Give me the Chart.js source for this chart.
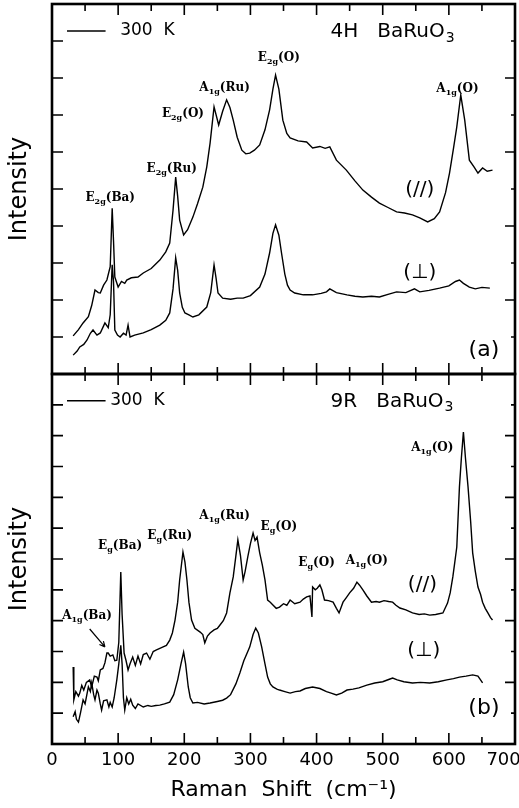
<!DOCTYPE html>
<html lang="en">
<head>
<meta charset="UTF-8">
<title>Raman spectra of 4H and 9R BaRuO3</title>
<script src="https://cdn.jsdelivr.net/npm/chart.js"></script>
<style>
  body { margin: 0; background: #fff; }
  canvas { display: block; }
</style>
</head>
<body>
<canvas id="raman" width="519" height="808"></canvas>
<script>
// (a) 4H BaRuO3, parallel polarisation
const shiftA_par = [32, 40, 47, 55, 60, 65, 70, 73, 78, 83, 88, 91, 93, 95, 100, 105, 110, 113, 120, 130, 138, 150, 163, 172, 178, 183, 187, 190, 193, 199, 205, 213, 220, 228, 234, 239, 245, 252, 258, 264, 269, 274, 280, 287, 293, 299, 306, 314, 322, 329, 334, 338, 343, 349, 355, 360, 372, 385, 394, 405, 413, 420, 430, 445, 458, 470, 483, 495, 508, 521, 533, 545, 556, 568, 578, 586, 595, 601, 607, 612, 618, 624, 631, 638, 644, 651, 658, 666];
const intA_par = [1.03, 1.2, 1.38, 1.55, 1.85, 2.27, 2.2, 2.19, 2.4, 2.54, 2.9, 4.48, 3.6, 2.62, 2.35, 2.5, 2.45, 2.54, 2.6, 2.62, 2.73, 2.85, 3.08, 3.3, 3.54, 4.43, 5.32, 4.8, 4.16, 3.76, 3.9, 4.24, 4.6, 5.05, 5.6, 6.24, 7.22, 6.73, 7.1, 7.41, 7.2, 6.86, 6.4, 6.05, 5.95, 5.97, 6.05, 6.19, 6.6, 7.14, 7.7, 8.08, 7.7, 6.86, 6.5, 6.38, 6.3, 6.27, 6.11, 6.15, 6.1, 6.14, 5.78, 5.51, 5.22, 4.97, 4.78, 4.62, 4.5, 4.38, 4.35, 4.3, 4.22, 4.11, 4.2, 4.38, 4.9, 5.43, 6.1, 6.68, 7.54, 6.86, 5.78, 5.6, 5.43, 5.57, 5.48, 5.51];

// (a) 4H BaRuO3, crossed polarisation
const shiftA_perp = [32, 38, 42, 48, 53, 58, 62, 68, 73, 78, 80, 85, 88, 91, 93, 95, 99, 103, 108, 112, 115, 118, 125, 138, 150, 163, 172, 178, 183, 187, 190, 193, 197, 201, 207, 213, 222, 234, 240, 245, 248, 251, 258, 270, 280, 289, 300, 314, 322, 329, 334, 338, 343, 347, 352, 356, 360, 367, 380, 394, 407, 415, 420, 430, 446, 458, 470, 483, 495, 508, 521, 535, 548, 556, 570, 586, 600, 610, 616, 622, 631, 640, 650, 662];
const intA_perp = [0.51, 0.62, 0.73, 0.8, 0.92, 1.1, 1.19, 1.05, 1.11, 1.3, 1.38, 1.25, 1.6, 2.95, 2.5, 1.19, 1.05, 1.0, 1.1, 1.05, 1.32, 1.0, 1.05, 1.11, 1.2, 1.32, 1.45, 1.65, 2.3, 3.14, 2.8, 2.19, 1.8, 1.65, 1.6, 1.54, 1.6, 1.81, 2.2, 2.95, 2.6, 2.19, 2.05, 2.02, 2.05, 2.05, 2.12, 2.35, 2.7, 3.27, 3.8, 4.03, 3.75, 3.27, 2.7, 2.4, 2.27, 2.19, 2.14, 2.14, 2.18, 2.22, 2.3, 2.2, 2.14, 2.1, 2.08, 2.1, 2.08, 2.15, 2.22, 2.2, 2.3, 2.22, 2.26, 2.32, 2.38, 2.5, 2.54, 2.45, 2.35, 2.3, 2.34, 2.32];

// (b) 9R BaRuO3, parallel polarisation
const shiftB_par = [32, 33, 36, 40, 42, 45, 48, 52, 57, 60, 64, 68, 70, 73, 77, 80, 83, 85, 88, 92, 95, 98, 101, 104, 106, 109, 112, 115, 118, 122, 126, 130, 134, 138, 143, 148, 153, 158, 163, 168, 173, 178, 182, 186, 190, 193, 198, 201, 204, 207, 211, 216, 224, 228, 231, 235, 239, 245, 250, 254, 259, 264, 269, 274, 278, 281, 285, 289, 292, 296, 300, 304, 307, 310, 314, 318, 322, 326, 330, 334, 339, 344, 350, 355, 360, 367, 375, 380, 385, 390, 393, 394, 398, 401, 405, 408, 412, 418, 425, 430, 434, 440, 445, 450, 456, 461, 465, 470, 476, 483, 490, 495, 502, 509, 515, 520, 526, 535, 545, 555, 563, 571, 580, 591, 598, 602, 606, 609, 612, 616, 619, 622, 625, 629, 633, 636, 640, 644, 648, 651, 655, 659, 663, 666];
const intB_par = [2.5, 1.43, 1.7, 1.55, 1.65, 1.9, 1.75, 2.0, 2.08, 1.85, 2.2, 2.17, 2.05, 2.4, 2.45, 2.63, 2.95, 2.95, 2.85, 2.89, 2.7, 2.72, 3.3, 5.58, 4.2, 2.95, 2.7, 2.4, 2.6, 2.82, 2.55, 2.85, 2.6, 2.9, 2.95, 2.75, 3.0, 3.05, 3.1, 3.15, 3.2, 3.37, 3.6, 4.02, 4.6, 5.32, 6.23, 5.9, 5.32, 4.6, 4.02, 3.75, 3.63, 3.55, 3.28, 3.5, 3.6, 3.7, 3.75, 3.86, 4.0, 4.25, 4.9, 5.42, 6.1, 6.62, 6.1, 5.32, 5.6, 6.07, 6.5, 6.84, 6.6, 6.71, 6.2, 5.8, 5.32, 4.67, 4.6, 4.51, 4.4, 4.44, 4.55, 4.5, 4.67, 4.55, 4.6, 4.7, 4.77, 4.8, 4.12, 5.09, 5.0, 5.05, 5.16, 5.0, 4.67, 4.65, 4.6, 4.4, 4.25, 4.6, 4.75, 4.9, 5.05, 5.25, 5.15, 5.0, 4.8, 4.6, 4.62, 4.6, 4.65, 4.62, 4.6, 4.5, 4.41, 4.35, 4.25, 4.2, 4.22, 4.18, 4.2, 4.25, 4.57, 4.9, 5.42, 5.9, 6.39, 8.34, 9.3, 10.12, 9.3, 8.34, 7.2, 6.2, 5.6, 5.09, 4.85, 4.6, 4.4, 4.25, 4.1, 4.02];

// (b) 9R BaRuO3, crossed polarisation
const shiftB_perp = [32, 35, 37, 40, 43, 47, 50, 55, 58, 60, 63, 65, 68, 70, 73, 75, 78, 83, 86, 88, 91, 94, 98, 101, 104, 106, 108, 110, 113, 116, 119, 122, 126, 130, 138, 145, 150, 157, 163, 170, 178, 184, 190, 195, 199, 202, 206, 209, 213, 220, 230, 239, 250, 258, 264, 270, 278, 284, 290, 296, 299, 304, 308, 312, 317, 322, 326, 330, 334, 340, 344, 352, 360, 368, 375, 383, 394, 405, 415, 422, 430, 438, 446, 455, 464, 476, 488, 500, 510, 515, 522, 532, 545, 557, 571, 584, 597, 607, 616, 626, 636, 644, 651];
const intB_perp = [0.88, 1.05, 0.8, 0.71, 1.0, 1.43, 1.3, 1.85, 1.7, 1.98, 1.6, 1.43, 1.75, 1.65, 1.3, 1.1, 1.4, 1.43, 1.2, 1.35, 1.2, 1.5, 2.08, 2.6, 3.2, 2.6, 1.5, 1.1, 1.5, 1.3, 1.45, 1.26, 1.15, 1.3, 1.2, 1.25, 1.22, 1.25, 1.26, 1.3, 1.36, 1.6, 2.08, 2.6, 2.98, 2.6, 1.85, 1.5, 1.33, 1.35, 1.3, 1.33, 1.38, 1.42, 1.49, 1.6, 1.95, 2.3, 2.7, 3.0, 3.15, 3.55, 3.76, 3.6, 3.15, 2.6, 2.17, 1.95, 1.85, 1.78, 1.75, 1.7, 1.65, 1.7, 1.72, 1.8, 1.85, 1.8, 1.7, 1.65, 1.59, 1.65, 1.75, 1.78, 1.82, 1.91, 1.98, 2.02, 2.1, 2.14, 2.08, 2.02, 1.98, 2.0, 1.98, 2.02, 2.08, 2.12, 2.17, 2.2, 2.24, 2.2, 1.98];

const xTickLabels = ['0', '100', '200', '300', '400', '500', '600', '700'];

// mode labels: symbol, subscript, site
const peaksA = [
  ['E', '2g', '(Ba)', 88, 4.78],
  ['E', '2g', '(Ru)', 181, 5.57],
  ['E', '2g', '(O)', 198, 7.05],
  ['A', '1g', '(Ru)', 261, 7.76],
  ['E', '2g', '(O)', 343, 8.57],
  ['A', '1g', '(O)', 613, 7.73]
];
const peaksB = [
  ['A', '1g', '(Ba)', 53, 4.18],
  ['E', 'g', '(Ba)', 103, 6.45],
  ['E', 'g', '(Ru)', 178, 6.78],
  ['A', '1g', '(Ru)', 261, 7.43],
  ['E', 'g', '(O)', 343, 7.07],
  ['E', 'g', '(O)', 400, 5.9],
  ['A', '1g', '(O)', 476, 5.97],
  ['A', '1g', '(O)', 575, 9.63]
];

const pts = (xs, ys) => xs.map((x, i) => ({x: x, y: ys[i]}));
const sans = '"DejaVu Sans", sans-serif';

function drawPeak(ctx, px, py, main, sub, rest) {
  const big = 'bold 12px "DejaVu Serif", serif';
  const small = 'bold 8px "DejaVu Serif", serif';
  ctx.font = big;
  const w1 = ctx.measureText(main).width, w3 = ctx.measureText(rest).width;
  ctx.font = small;
  const w2 = ctx.measureText(sub).width;
  let cx = px - (w1 + w2 + w3) / 2;
  ctx.textAlign = 'left';
  ctx.textBaseline = 'alphabetic';
  ctx.font = big; ctx.fillText(main, cx, py + 4); cx += w1;
  ctx.font = small; ctx.fillText(sub, cx, py + 7); cx += w2;
  ctx.font = big; ctx.fillText(rest, cx, py + 4);
}

function drawText(ctx, text, px, py, size, align) {
  ctx.font = size + 'px ' + sans;
  ctx.textAlign = align || 'center';
  ctx.textBaseline = 'middle';
  ctx.fillText(text, px, py);
}

// frames and inward ticks for both panels
const framePlugin = {
  id: 'frame',
  afterDraw(chart) {
    const {ctx, scales: {x, yA, yB}} = chart;
    const L = x.getPixelForValue(0), R = x.getPixelForValue(700);
    ctx.save();
    ctx.strokeStyle = '#000';
    [[yA, 10], [yB, 12]].forEach(([s, n]) => {
      const T = s.getPixelForValue(n), B = s.getPixelForValue(0);
      ctx.lineWidth = 1.6;
      ctx.beginPath();
      for (let v = 0; v <= 700; v += 50) {
        const px = x.getPixelForValue(v), len = v % 100 === 0 ? 11 : 7;
        ctx.moveTo(px, T); ctx.lineTo(px, T + len);
        ctx.moveTo(px, B); ctx.lineTo(px, B - len);
      }
      for (let v = 1; v < n; v++) {
        const py = s.getPixelForValue(v);
        ctx.moveTo(L, py); ctx.lineTo(L + 11, py);
        ctx.moveTo(R, py); ctx.lineTo(R - (v % 2 === 0 ? 10 : 4), py);
      }
      ctx.stroke();
      ctx.lineWidth = 2.6;
      ctx.strokeRect(L, T, R - L, B - T);
    });
    ctx.restore();
  }
};

const labelPlugin = {
  id: 'labels',
  afterDatasetsDraw(chart) {
    const {ctx, scales: {x, yA, yB}} = chart;
    const X = v => x.getPixelForValue(v);
    ctx.save();
    ctx.fillStyle = '#000';
    ctx.strokeStyle = '#000';

    peaksA.forEach(p => drawPeak(ctx, X(p[3]), yA.getPixelForValue(p[4]), p[0], p[1], p[2]));
    peaksB.forEach(p => drawPeak(ctx, X(p[3]), yB.getPixelForValue(p[4]), p[0], p[1], p[2]));

    // legend line + temperature, sample name, polarisation, panel tag
    [[yA, 9.27, '4H   BaRuO', 2.73, '(a)', 0.65, 4.97],
     [yB, 11.13, '9R   BaRuO', 3.02, '(b)', 1.17, 5.16]].forEach(([s, ty, name, perpY, tag, tagY, parY]) => {
      const py = s.getPixelForValue(ty);
      ctx.lineWidth = 1.5;
      ctx.beginPath();
      ctx.moveTo(X(22.7), py); ctx.lineTo(X(81), py);
      ctx.stroke();
      drawText(ctx, '300  K', X(s === yA ? 103 : 88), py, 17, 'left');
      drawText(ctx, name, X(421), py + 1, 20, 'left');
      ctx.font = '20px ' + sans;
      const nw = ctx.measureText(name).width;
      drawText(ctx, '3', X(421) + nw + 1, py + 7, 14, 'left');
      drawText(ctx, '(//)', X(s === yA ? 556 : 560), s.getPixelForValue(parY), 20);
      drawText(ctx, '(\u22A5)', X(s === yA ? 556 : 562), s.getPixelForValue(perpY), 20);
      drawText(ctx, tag, X(653), s.getPixelForValue(tagY), 22);
    });

    // arrow to A1g(Ba)
    const ax0 = X(57), ay0 = yB.getPixelForValue(3.73);
    const ax1 = X(80), ay1 = yB.getPixelForValue(3.15);
    const ang = Math.atan2(ay1 - ay0, ax1 - ax0);
    ctx.lineWidth = 1.2;
    ctx.beginPath();
    ctx.moveTo(ax0, ay0); ctx.lineTo(ax1, ay1);
    ctx.moveTo(ax1, ay1); ctx.lineTo(ax1 - 6 * Math.cos(ang - 0.45), ay1 - 6 * Math.sin(ang - 0.45));
    ctx.moveTo(ax1, ay1); ctx.lineTo(ax1 - 6 * Math.cos(ang + 0.45), ay1 - 6 * Math.sin(ang + 0.45));
    ctx.stroke();
    ctx.restore();
  }
};

const line = (xs, ys, axis) => ({
  data: pts(xs, ys),
  yAxisID: axis,
  borderColor: '#000',
  borderWidth: 1.4,
  pointRadius: 0,
  tension: 0,
  fill: false
});

const yAxis = (max, weight) => ({
  type: 'linear',
  position: 'left',
  stack: 'panels',
  weight: weight,
  min: 0,
  max: max,
  ticks: {display: false},
  grid: {display: false, drawTicks: false},
  border: {display: false},
  title: {display: true, text: 'Intensity', color: '#000', font: {family: sans, size: 24}, padding: {top: 5, bottom: 0}},
  afterFit: s => { s.width = 52; }
});

new Chart(document.getElementById('raman'), {
  type: 'line',
  data: {
    datasets: [
      line(shiftA_par, intA_par, 'yA'),
      line(shiftA_perp, intA_perp, 'yA'),
      line(shiftB_par, intB_par, 'yB'),
      line(shiftB_perp, intB_perp, 'yB')
    ]
  },
  options: {
    responsive: false,
    animation: false,
    devicePixelRatio: 1,
    layout: {padding: {top: 4, right: 4, left: 0, bottom: 0}},
    plugins: {legend: {display: false}, tooltip: {enabled: false}},
    scales: {
      x: {
        type: 'linear',
        min: 0,
        max: 700,
        ticks: {
          stepSize: 100,
          color: '#000',
          font: {family: sans, size: 18},
          padding: 6,
          maxRotation: 0,
          callback: v => { const t = xTickLabels[v / 100]; return v === 700 ? t + '    ' : t; }
        },
        grid: {display: false, drawTicks: false},
        border: {display: false},
        title: {display: true, text: 'Raman  Shift  (cm\u207B\u00B9)', color: '#000', font: {family: sans, size: 22}, padding: {top: 0, bottom: 5}},
        afterFit: s => { s.height = 64; s.paddingLeft = 0; s.paddingRight = 0; }
      },
      yA: yAxis(10, 2),
      yB: yAxis(12, 1)
    }
  },
  plugins: [framePlugin, labelPlugin]
});
</script>
</body>
</html>
